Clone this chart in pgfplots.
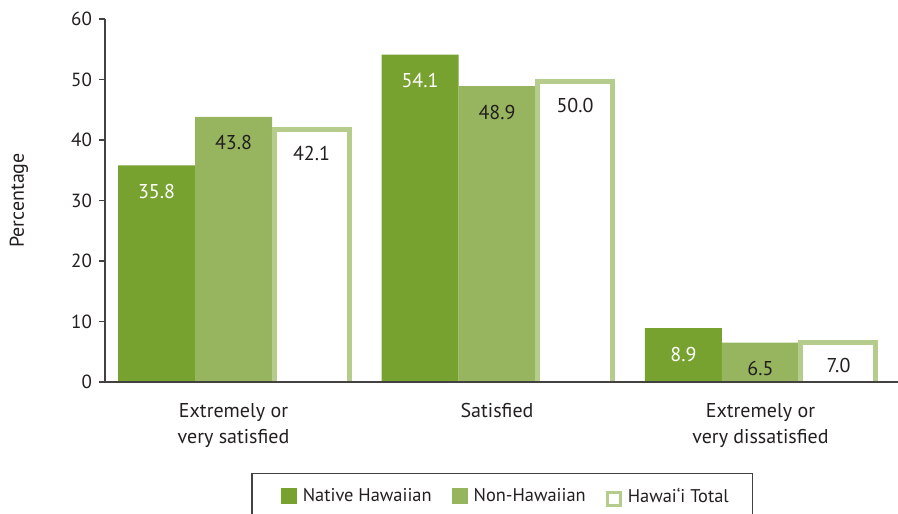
\documentclass[border=0pt]{standalone}
\usepackage{fontspec}
\setmainfont{PT Sans}
\usepackage{pgfplots}
\pgfplotsset{compat=1.18}
\definecolor{nhgreen}{HTML}{78A230}
\definecolor{nongreen}{HTML}{97B55E}
\definecolor{totgreen}{HTML}{B6CC8C}
\definecolor{txt}{HTML}{231F20}
\begin{document}
\begin{tikzpicture}
\begin{axis}[
    name=ax,
    scale only axis,
    width=396.5pt, height=181.5pt,
    xmin=-0.488, xmax=2.522,
    ymin=0, ymax=60,
    ytick={0,10,...,60},
    xtick={0,1,2},
    xticklabels={Extremely or\\very satisfied, Satisfied, Extremely or\\very dissatisfied},
    xticklabel style={align=center, font=\fontsize{10}{13}\selectfont, text=txt, yshift=-4pt},
    major x tick style={draw=none},
    yticklabel style={font=\fontsize{9.5}{11}\selectfont, text=txt},
    /pgf/number format/assume math mode=true,
    axis x line=bottom, axis y line=left,
    axis line style={-, draw=txt!85, line width=0.75pt},
    tick align=outside, major tick length=3pt,
    tick style={draw=txt!85, line width=0.6pt},
    axis on top,
    ylabel={Percentage},
    every axis y label/.style={at={(axis description cs:-0.1085,0.5)}, rotate=90, anchor=center, font=\fontsize{10}{12}\selectfont, text=txt},
    ybar, bar width=38.5pt,
    nodes near coords,
    point meta=explicit symbolic,
    every node near coord/.append style={anchor=center, yshift=-13pt, font=\fontsize{10}{12}\selectfont},
    legend columns=3,
    legend style={at={(axis description cs:0.501,0)}, anchor=north, yshift=-45.5pt,
        draw=txt!85, line width=0.75pt, inner xsep=10pt, inner ysep=5pt,
        font=\fontsize{9.2}{11}\selectfont, text=txt,
        /tikz/every even column/.append style={column sep=8pt}},
]
\addplot[fill=nhgreen, draw=none, bar shift=-38.5pt,
    every node near coord/.append style={text=white},
    legend image code/.code={\path[draw=none,fill=none] (-4.5pt,0pt) -- (9pt,0pt); \fill[nhgreen] (0pt,-4pt) rectangle (8pt,4pt);}]
    coordinates {(0,35.8)[35.8] (1,54.1)[54.1] (2,8.9)[8.9]};
\addlegendentry{Native Hawaiian}
\addplot[fill=nongreen, draw=none, bar shift=0pt,
    every node near coord/.append style={text=txt},
    legend image code/.code={\path[draw=none,fill=none] (0pt,0pt) -- (9pt,0pt); \fill[nongreen] (0pt,-4pt) rectangle (8pt,4pt);}]
    coordinates {(0,43.8)[43.8] (1,48.9)[48.9] (2,6.5)[6.5]};
\addlegendentry{Non-Hawaiian}
\addplot[fill=white, draw=totgreen, line width=2.5pt, bar width=37.5pt, bar shift=39pt,
    yshift=-1.25pt,
    every node near coord/.append style={text=txt, yshift=1.25pt},
    legend image code/.code={\path[draw=none,fill=none] (0pt,0pt) -- (9pt,0pt); \draw[draw=totgreen, fill=white, line width=1.6pt] (0.8pt,-3.2pt) rectangle (7.2pt,3.2pt);}]
    coordinates {(0,42.1)[42.1] (1,50.0)[50.0] (2,7.0)[7.0]};
\addlegendentry{Hawai‘i Total}
\end{axis}
\pgfresetboundingbox
\path[use as bounding box] ([xshift=-52.5pt,yshift=-66pt]ax.south west) rectangle ([yshift=9.5pt]ax.north east);
\end{tikzpicture}
\end{document}
